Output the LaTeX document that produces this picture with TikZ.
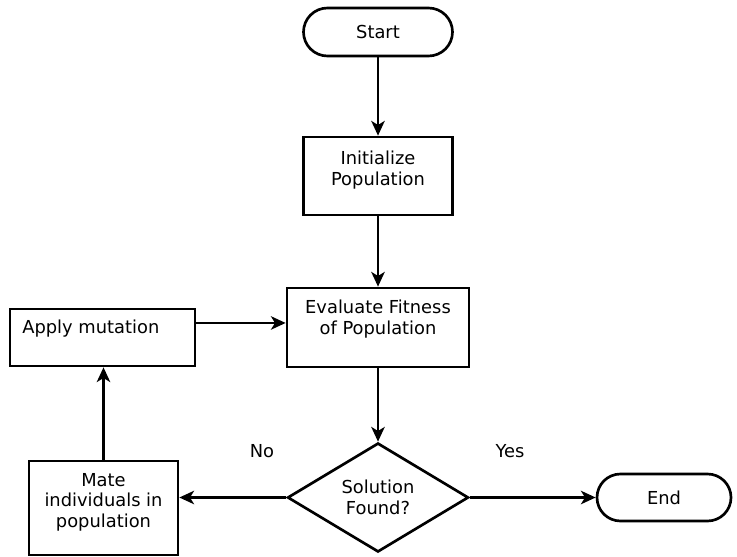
\documentclass[tikz,border=0pt]{standalone}
\usepackage{fontspec}
\setmainfont{DejaVu Sans}
\usetikzlibrary{shapes.geometric,arrows.meta}

\begin{document}
\begin{tikzpicture}[x=0.75pt, y=-0.75pt, line width=2pt,
		font=\fontsize{13.4}{15.4}\selectfont,
		box/.style={draw, inner sep=0pt},
		term/.style={draw, inner sep=0pt, rounded corners=18pt},
		txt/.style={align=center, inner sep=0pt},
		arr/.style={-{Stealth[length=11pt,width=10pt,inset=3pt]}}]
	\useasboundingbox (0,0) rectangle (737,556);
	% boxes
	\node[term, minimum width=111.75pt, minimum height=36pt] (start) at (378,32) {Start};
	\node[box, minimum width=111.75pt, minimum height=58.5pt] (init) at (378,176) {};
	\node[box, minimum width=136.5pt, minimum height=59.25pt] (eval) at (378,327.5) {};
	\node[box, minimum width=138.75pt, minimum height=42.75pt] (apply) at (102.5,337.5) {};
	\node[draw, diamond, aspect=1.66, inner sep=0pt, align=center, minimum width=135.75pt, minimum height=81.75pt] (dec) at (378,497.5) {Solution\\Found?};
	\node[box, minimum width=111.75pt, minimum height=70.5pt] (mate) at (103.5,508) {};
	\node[term, rounded corners=17.6pt, minimum width=100.5pt, minimum height=35.25pt] (end) at (664,497.5) {End};
	% texts
	\node[txt] (initT) at (378,170) {Initialize\\Population};
	\node[txt] (evalT) at (378,319) {Evaluate Fitness\\of Population};
	\node[txt, anchor=west] (applyT) at (21,329) {Apply mutation};
	\node[txt] (mateT) at (103.5,502) {Mate\\individuals in\\population};
	\node (no) at (262,451) {No};
	\node (yes) at (510,451) {Yes};
	% arrows
	\draw[arr] (start.south) -- (init.north);
	\draw[arr] (init.south) -- (eval.north);
	\draw[arr] ([yshift=10.9pt]apply.east) -- ([yshift=10.9pt]apply.east -| eval.west);
	\draw[arr] (eval.south) -- (dec.north);
	\draw[arr] (dec.west) -- (dec.west -| mate.east);
	\draw[arr] (mate.north) -- (mate.north |- apply.south);
	\draw[arr] (dec.east) -- (dec.east -| end.west);
\end{tikzpicture}
\end{document}
